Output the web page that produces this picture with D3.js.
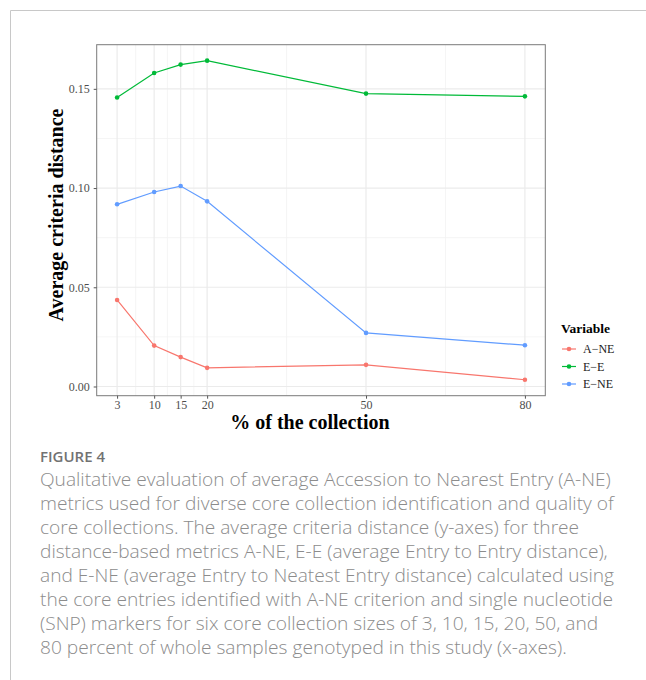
<!DOCTYPE html>
<html>
<head>
<meta charset="utf-8">
<script src="https://cdn.jsdelivr.net/npm/d3@7"></script>
<style>
  body { margin: 0; background: #fff; }
</style>
</head>
<body>
<div class="canvas"></div>
<script>
// data
const sizes = [3, 10, 15, 20, 50, 80];
const variables = ['A−NE', 'E−E', 'E−NE'];
const aNE = [0.0436, 0.0206, 0.0148, 0.0094, 0.0109, 0.0034];
const eE = [0.1456, 0.1580, 0.1622, 0.1642, 0.1476, 0.1462];
const eNE = [0.0918, 0.0980, 0.1010, 0.0933, 0.0270, 0.0208];
const yTicks = [0, 0.05, 0.10, 0.15];
const xMinor = [6.5, 12.5, 17.5, 35, 65];
const yMinor = [0.025, 0.075, 0.125];
const colors = ['#F8766D', '#00BA38', '#619CFF'];

const figLabel = 'FIGURE 4';
const captionLines = [
  'Qualitative evaluation of average Accession to Nearest Entry (A-NE)',
  'metrics used for diverse core collection identification and quality of',
  'core collections. The average criteria distance (y-axes) for three',
  'distance-based metrics A-NE, E-E (average Entry to Entry distance),',
  'and E-NE (average Entry to Neatest Entry distance) calculated using',
  'the core entries identified with A-NE criterion and single nucleotide',
  '(SNP) markers for six core collection sizes of 3, 10, 15, 20, 50, and',
  '80 percent of whole samples genotyped in this study (x-axes).'
];

const series = [aNE, eE, eNE].map((vals, i) => ({
  name: variables[i],
  color: colors[i],
  values: sizes.map((s, j) => ({x: s, y: vals[j]}))
}));

const svg = d3.select('.canvas')
  .append('svg')
  .attr('width', 646)
  .attr('height', 680);

svg.append('rect').attr('width', 646).attr('height', 680).attr('fill', '#fff');

// card frame (left + top edges visible)
svg.append('path')
  .attr('d', 'M10.5,680 V10.5 H646')
  .attr('fill', 'none')
  .attr('stroke', '#c8c8c8')
  .attr('stroke-width', 1);

const panel = {left: 96.7, top: 44.7, right: 545.3, bottom: 395.7};
const serif = '"Liberation Serif", "Times New Roman", serif';

// ggplot style 5% expansion
const xExt = d3.extent(sizes);
const xPad = (xExt[1] - xExt[0]) * 0.05;
const allY = aNE.concat(eE, eNE);
const yExt = d3.extent(allY);
const yPad = (yExt[1] - yExt[0]) * 0.05;

const x = d3.scaleLinear()
  .domain([xExt[0] - xPad, xExt[1] + xPad])
  .range([panel.left, panel.right]);
const y = d3.scaleLinear()
  .domain([yExt[0] - yPad, yExt[1] + yPad])
  .range([panel.bottom, panel.top]);

const grid = svg.append('g');
grid.selectAll('.ymin').data(yMinor).enter().append('line')
  .attr('x1', panel.left).attr('x2', panel.right)
  .attr('y1', d => y(d)).attr('y2', d => y(d))
  .attr('stroke', '#f2f2f2').attr('stroke-width', 0.8);
grid.selectAll('.xmin').data(xMinor).enter().append('line')
  .attr('y1', panel.top).attr('y2', panel.bottom)
  .attr('x1', d => x(d)).attr('x2', d => x(d))
  .attr('stroke', '#f2f2f2').attr('stroke-width', 0.8);
grid.selectAll('.ymaj').data(yTicks).enter().append('line')
  .attr('x1', panel.left).attr('x2', panel.right)
  .attr('y1', d => y(d)).attr('y2', d => y(d))
  .attr('stroke', '#ebebeb').attr('stroke-width', 1.2);
grid.selectAll('.xmaj').data(sizes).enter().append('line')
  .attr('y1', panel.top).attr('y2', panel.bottom)
  .attr('x1', d => x(d)).attr('x2', d => x(d))
  .attr('stroke', '#ebebeb').attr('stroke-width', 1.2);

// lines + points
const line = d3.line().x(d => x(d.x)).y(d => y(d.y));
const sg = svg.append('g').selectAll('g').data(series).enter().append('g');
sg.append('path')
  .attr('d', d => line(d.values))
  .attr('fill', 'none')
  .attr('stroke', d => d.color)
  .attr('stroke-width', 1.2);
sg.selectAll('circle').data(d => d.values.map(v => ({...v, color: d.color}))).enter()
  .append('circle')
  .attr('cx', d => x(d.x)).attr('cy', d => y(d.y))
  .attr('r', 2.3)
  .attr('fill', d => d.color);

// panel border
svg.append('rect')
  .attr('x', panel.left).attr('y', panel.top)
  .attr('width', panel.right - panel.left).attr('height', panel.bottom - panel.top)
  .attr('fill', 'none').attr('stroke', '#7a7a7a').attr('stroke-width', 1);

// axes
const xAxis = d3.axisBottom(x).tickValues(sizes).tickSize(3).tickPadding(2);
const yAxis = d3.axisLeft(y).tickValues(yTicks).tickFormat(d3.format('.2f')).tickSize(3).tickPadding(4);

const xAxisGroup = svg.append('g').attr('transform', `translate(0, ${panel.bottom})`).call(xAxis);
const yAxisGroup = svg.append('g').attr('transform', `translate(${panel.left}, 0)`).call(yAxis);

[xAxisGroup, yAxisGroup].forEach(g => {
  g.select('.domain').remove();
  g.selectAll('line').attr('stroke', '#555');
  g.selectAll('text')
    .attr('fill', '#4d4d4d')
    .style('font-family', serif)
    .style('font-size', '12px');
});

// axis titles
svg.append('text')
  .attr('x', 310).attr('y', 429)
  .attr('text-anchor', 'middle')
  .style('font-family', serif).style('font-size', '20px').style('font-weight', 'bold')
  .text('% of the collection');

svg.append('text')
  .attr('transform', 'translate(63, 215) rotate(-90)')
  .attr('text-anchor', 'middle')
  .style('font-family', serif).style('font-size', '20px').style('font-weight', 'bold')
  .text('Average criteria distance');

// legend
const legend = svg.append('g').attr('transform', 'translate(561, 0)');
legend.append('text')
  .attr('x', 0).attr('y', 333)
  .style('font-family', serif).style('font-size', '13.5px').style('font-weight', 'bold')
  .text('Variable');
const items = legend.selectAll('.item').data(series).enter().append('g')
  .attr('transform', (d, i) => `translate(0, ${349 + i * 17.5})`);
items.append('line')
  .attr('x1', 1).attr('x2', 15)
  .attr('stroke', d => d.color).attr('stroke-width', 1.2);
items.append('circle')
  .attr('cx', 8).attr('r', 2.3).attr('fill', d => d.color);
items.append('text')
  .attr('x', 22).attr('y', 4.3)
  .attr('fill', '#1a1a1a')
  .style('font-family', serif).style('font-size', '12px')
  .text(d => d.name);

// caption
const capFont = '"Open Sans", Lato, sans-serif';
svg.append('text')
  .attr('x', 40).attr('y', 462)
  .attr('fill', '#727272')
  .style('font-family', capFont).style('font-size', '15px').style('font-weight', 600)
  .text(figLabel);

const cap = svg.append('g');
const capLines = cap.selectAll('text').data(captionLines).enter().append('text')
  .attr('x', 40)
  .attr('y', (d, i) => 486 + i * 24)
  .attr('fill', '#8c8c8c')
  .style('font-family', capFont)
  .style('font-weight', 300)
  .style('font-size', '100px')
  .text(d => d);
// fit font so first line spans to ~611px
const w0 = capLines.node().getComputedTextLength();
const capSize = 100 * 571 / w0;
capLines.style('font-size', capSize + 'px');
</script>
</body>
</html>
